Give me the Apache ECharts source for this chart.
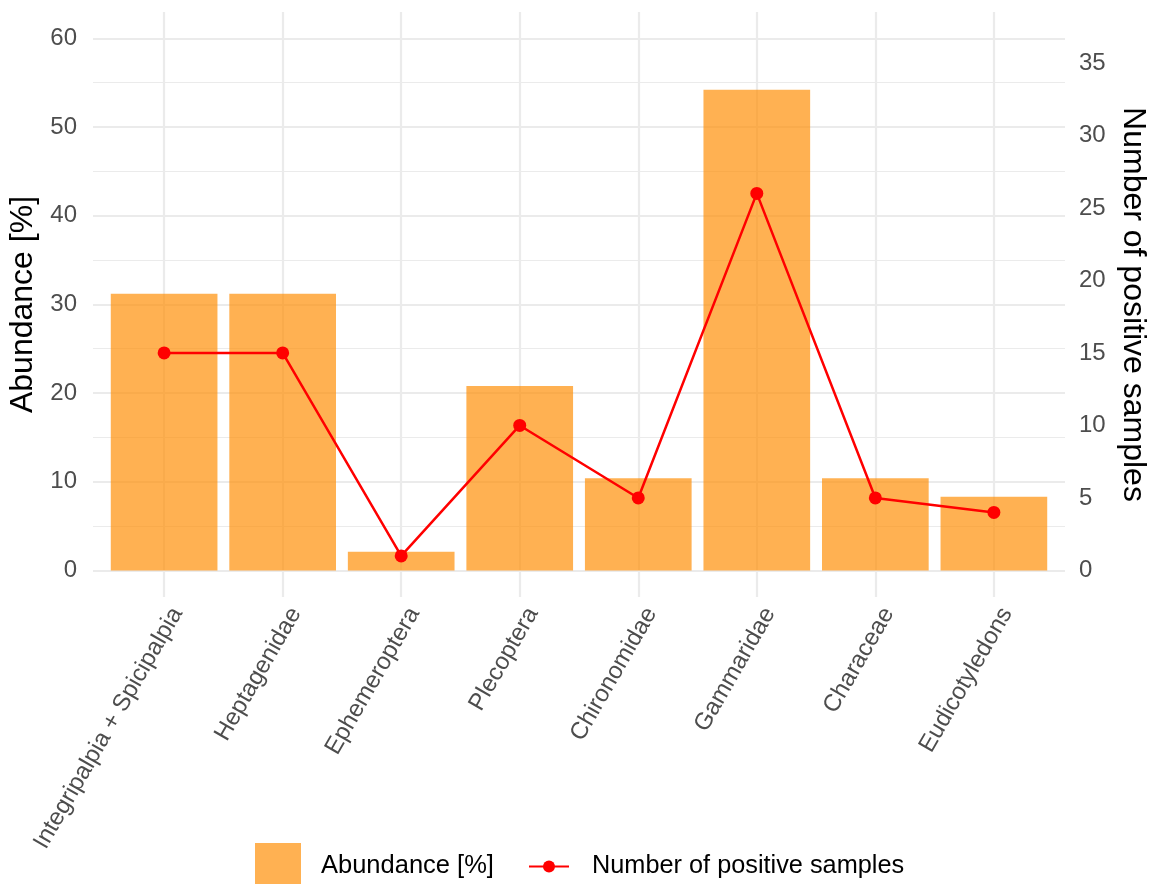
<!DOCTYPE html>
<html>
<head>
<meta charset="utf-8">
<script src="https://cdn.jsdelivr.net/npm/echarts@6/dist/echarts.min.js"></script>
<style>
html,body{margin:0;padding:0;background:#fff;}
#chart{width:1155px;height:884px;}
</style>
</head>
<body>
<div id="chart"></div>
<script>
const categories = ['Integripalpia + Spicipalpia','Heptagenidae','Ephemeroptera','Plecoptera','Chironomidae','Gammaridae','Characeae','Eudicotyledons'];
const abundance = [31.2, 31.2, 2.1, 20.8, 10.4, 54.2, 10.4, 8.3];
const positiveSamples = [15, 15, 1, 10, 5, 26, 5, 4];
const leftTicks = [0, 10, 20, 30, 40, 50, 60];
const leftMinorTicks = [5, 15, 25, 35, 45, 55];
const rightTicks = [0, 5, 10, 15, 20, 25, 30, 35];
const leftRange = [-2.99, 62.96];
const rightRange = [-1.83, 38.51];

const FONT = 'Liberation Sans, Arial, Helvetica, sans-serif';
const catIdx = categories.map((c, i) => i);
const grid = '#EBEBEB';

const chart = echarts.init(document.getElementById('chart'), null, {renderer: 'canvas'});
chart.setOption({
  animation: false,
  backgroundColor: '#ffffff',
  textStyle: {fontFamily: FONT},
  grid: {left: 93, right: 90, top: 12, bottom: 287, containLabel: false, outerBoundsMode: 'none'},
  legend: [
    {
      left: 255, top: 843, padding: 0,
      itemWidth: 46, itemHeight: 46,
      data: [{name: 'Abundance [%]', icon: 'rect'}],
      textStyle: {fontSize: 25.5, color: '#000', fontFamily: FONT, padding: [0, 0, 0, 15]}
    },
    {
      left: 528, top: 854, padding: 0,
      itemWidth: 40, itemHeight: 15,
      data: ['Number of positive samples'],
      textStyle: {fontSize: 25.3, color: '#000', fontFamily: FONT, padding: [0, 0, 0, 18]}
    }
  ],
  xAxis: {
    type: 'value',
    min: -0.6, max: 7.6,
    axisLine: {show: false},
    axisTick: {show: false, customValues: catIdx},
    axisLabel: {
      customValues: catIdx,
      formatter: v => categories[Math.round(v)],
      rotate: 60,
      margin: 5,
      verticalAlign: 'top',
      padding: [3, 0, 0, 0],
      fontSize: 24, color: '#4D4D4D', fontFamily: FONT
    },
    splitLine: {show: true, lineStyle: {color: grid, width: 2.2}}
  },
  yAxis: [
    {
      type: 'value', position: 'left',
      min: leftRange[0], max: leftRange[1],
      name: 'Abundance [%]', nameLocation: 'middle', nameGap: 53, nameRotate: 90,
      nameTextStyle: {fontSize: 32, color: '#000', fontFamily: FONT},
      axisLine: {show: false},
      axisTick: {show: false, customValues: leftTicks},
      axisLabel: {customValues: leftTicks, margin: 16, fontSize: 24, color: '#4D4D4D', fontFamily: FONT},
      splitLine: {show: true, lineStyle: {color: grid, width: 2.2}}
    },
    {
      type: 'value', position: 'right',
      min: rightRange[0], max: rightRange[1],
      name: 'Number of positive samples', nameLocation: 'middle', nameGap: 52, nameRotate: -90,
      nameTextStyle: {fontSize: 32, color: '#000', fontFamily: FONT},
      axisLine: {show: false},
      axisTick: {show: false, customValues: rightTicks},
      axisLabel: {customValues: rightTicks, margin: 14, fontSize: 24, color: '#4D4D4D', fontFamily: FONT},
      splitLine: {show: false}
    },
    {
      type: 'value', position: 'left',
      min: leftRange[0], max: leftRange[1],
      axisLine: {show: false},
      axisTick: {show: false, customValues: leftMinorTicks},
      axisLabel: {show: false, customValues: leftMinorTicks},
      splitLine: {show: true, lineStyle: {color: grid, width: 1.2}}
    }
  ],
  series: [
    {
      name: 'Abundance [%]',
      type: 'bar',
      xAxisIndex: 0, yAxisIndex: 0,
      barWidth: '90%',
      itemStyle: {color: 'rgba(255,140,0,0.68)'},
      data: abundance.map((v, i) => [i, v]),
      z: 2
    },
    {
      name: 'Number of positive samples',
      type: 'line',
      xAxisIndex: 0, yAxisIndex: 1,
      symbol: 'circle', symbolSize: 13,
      lineStyle: {color: '#FF0000', width: 2.5},
      itemStyle: {color: '#FF0000'},
      data: positiveSamples.map((v, i) => [i, v]),
      z: 3
    }
  ]
});
</script>
</body>
</html>
